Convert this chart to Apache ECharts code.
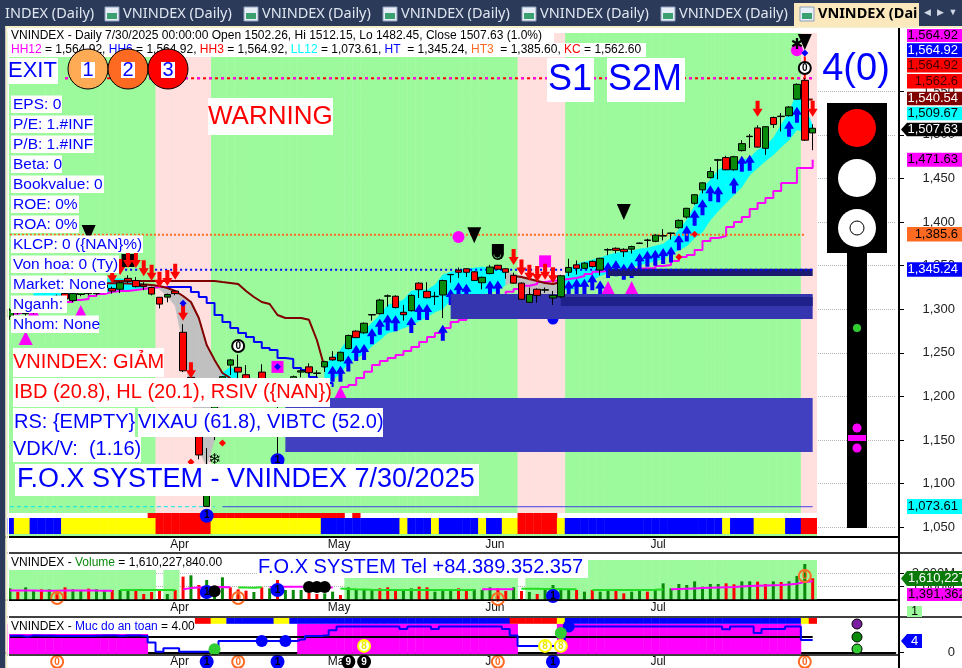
<!DOCTYPE html>
<html><head><meta charset="utf-8">
<style>html,body{margin:0;padding:0;background:#fff}#c{width:962px;height:668px}</style>
<script src="https://cdn.jsdelivr.net/npm/echarts@6/dist/echarts.min.js"></script>
</head><body><div id="c"></div>
<script>
const categories=['3/4','3/5','3/6','3/7','3/10','3/11','3/12','3/13','3/14','3/17','3/18','3/19','3/20','3/21','3/24','3/25','3/26','3/27','3/28','3/31',
'4/1','4/2','4/3','4/4','4/8','4/9','4/10','4/11','4/14','4/15','4/16','4/17','4/18','4/21','4/22','4/23','4/24','4/25','4/28','4/29',
'5/5','5/6','5/7','5/8','5/9','5/12','5/13','5/14','5/15','5/16','5/19','5/20','5/21','5/22','5/23','5/26','5/27','5/28','5/29','5/30',
'6/2','6/3','6/4','6/5','6/6','6/9','6/10','6/11','6/12','6/13','6/16','6/17','6/18','6/19','6/20','6/23','6/24','6/25','6/26','6/27','6/30',
'7/1','7/2','7/3','7/4','7/7','7/8','7/9','7/10','7/11','7/14','7/15','7/16','7/17','7/18','7/21','7/22','7/23','7/24','7/25','7/28','7/29','7/30',
'','','','','','','','','',''];
const monthTicks=[20,40,60,81];
const monthNames=['Apr','May','Jun','Jul'];
const priceTicks=[1050,1100,1150,1200,1250,1300,1350,1400,1450,1500,1550];
const volumeTicks=[1000,2000];
const safetyTicks=[0];

const opens=[1292,1300,1295,1303,1300,1312,1305,1318,1310,1317,1325,1318,1328,1324,1323,1335.5,1333,1328,1325,1313.8,1314,1321,1273.6,1222,1154,1074,1160,1212,1236,1233.5,1225,1212,1228,1210,1215,1205,1212,1228,1234,1226.5,1234,1245,1241,1255,1275,1273,1293.5,1295,1315,1315,1296.6,1298.4,1330,1320.6,1314.5,1316.4,1339.7,1345,1346.5,1343,1330.5,1341,1350.5,1346.5,1339,1330,1308,1323,1322,1313,1314.4,1342.5,1351,1347,1355,1345,1368,1370,1368.8,1369,1375.5,1379,1378,1384,1387,1393.6,1405.8,1421.6,1437,1451,1471,1474,1460,1482,1498,1508,1484.6,1520,1521,1522,1541,1562.6,1502.26];
const closes=[1299,1296,1302,1298,1309,1307,1315,1312,1318,1322,1318,1328,1325,1321,1330.5,1332.5,1326,1326,1317.5,1306,1317,1318,1229.5,1205,1133,1092.8,1205,1222.7,1242,1228,1219,1205,1219,1216,1208,1215,1222.7,1229.5,1227.3,1227,1240,1242,1250.7,1270,1267.5,1284,1294,1310.6,1315.5,1302,1293.8,1316,1322.5,1313.3,1315,1333,1340,1342.5,1342.5,1333,1336.7,1348.5,1346,1342.5,1330,1311.5,1317,1316,1322.5,1316,1338.5,1348,1347,1353,1349,1358.5,1368.5,1367.6,1366,1372,1376,1379.5,1385,1384.5,1387.5,1402,1415.8,1431.4,1445,1458,1471.5,1460,1475,1490,1498.5,1486,1509.4,1512,1521.5,1532,1558,1494,1507.63];
const lows=[1288,1294,1292,1295,1298,1304,1303,1310,1308,1315,1316,1316,1323,1318,1318.6,1330,1325,1322,1316,1301,1308,1316,1228,1190,1128,1073.61,1150,1208,1224.6,1218,1212,1198,1212,1200,1133,1200,1208,1222,1226,1222,1228,1241,1240,1254,1267,1272,1287,1294,1303,1301,1287,1297.5,1313,1312.5,1305,1290,1330.5,1336,1337,1332.5,1323,1340,1345,1335,1329.5,1311,1307.5,1307.5,1319,1305,1313,1338,1340,1346,1348,1339,1362,1364,1360,1364,1375,1371,1377,1379,1380,1392.5,1404,1420,1433,1450,1449,1459.5,1459,1481,1485,1485.5,1477,1508,1504,1521,1540,1493,1482.45];
const highs=[1301,1302,1304,1305,1311,1314,1317,1319,1320,1324,1327,1330,1330,1326,1332,1339,1337,1331,1326,1314,1318,1322,1283,1226,1160,1141,1208,1223.5,1243,1248,1236,1218,1237,1220,1218,1218,1224,1231,1238,1230,1241,1252,1251.5,1271,1276,1285,1294.5,1312,1317,1316,1305,1317,1331,1331,1320,1334,1340.5,1348,1347,1344,1337.5,1351,1351,1347,1342,1331,1325,1324,1325,1321,1339.5,1358,1356,1354,1356,1359,1370,1371,1370,1373,1376.5,1381,1386,1392,1388,1403,1416.5,1432,1446,1463,1472.5,1476,1476,1494,1501,1511,1510,1521,1525,1533,1559,1564.92,1512.15];

const regimePink=[[19,25],[65,70],[101,102]];
const regimeStrip='BYYBBBBYYYYYYYYYYYYRRRRRRRYYYYYYYYYYYYYYBBBBBBBBBBYBBBYBBBBBYBBYYRRRRRYBBBBBBBBBBBBBBBBBBBBYBBBYYYYBBRR';
const topRedBars=[[18,42],[44,44],[65,69]];
const safetyStrip='NNNNNNNNNNNNNNNNNNNNNNNNRRYYBBBBBBYYBBBBBBBBBBBBBBBBBBBBBBBBBBBBRRRRRRYBBBBBBBBBBBBBBBBBBBBBBBBBBBBBBYR';

const bandUpper=[null,null,null,1318,1320,1322,1325,1328,1330,1332,1333,1334,1335,1335,1335,1334,1332,1329,1327.9,1326.7,1324.4,1321,1315.3,1308.4,1290,1259,1242,1227,1233.8,1228,null,null,null,null,null,null,null,null,null,null,1236.1,1244.2,1253.3,1267.1,1271.7,1275.1,1284.3,1293.5,1305,1307.2,1310.7,1321,1322.2,1322.2,1327.9,1339.4,1342.8,1345.1,1346.2,1347.4,1348.5,1347.4,1346.2,1345.1,1340.5,1338.2,1335.9,1333.6,1331.3,1330.2,1330.2,1345.1,1352,1354.3,1356.6,1358.9,1362.3,1364.6,1365.7,1366.9,1369.2,1370.3,1372.6,1374.9,1381.8,1391,1402.4,1418.5,1439.1,1448.3,1459.8,1464.3,1467.8,1471.2,1473.5,1482.7,1487.3,1496.4,1511.3,1526.2,1548,1534.3,1510.2];
const bandLower=[null,null,null,1312,1313,1314,1315,1316,1317,1318,1319,1320,1320,1321,1322,1322,1323,1324,1325.6,1323,1315.3,1303.8,1259,1201.7,1138.6,1120,1150,1201.7,1213.2,1221,null,null,null,null,null,null,null,null,null,null,1213.2,1218.9,1227,1238.4,1244.2,1248.7,1257.9,1264.8,1272.8,1275.1,1278.6,1282,1286.6,1291.2,1296.9,1300.4,1310.7,1317.6,1317.6,1317.6,1317.6,1318.7,1322.2,1327.9,1331.3,1322.2,1315.3,1313,1314.1,1316.4,1322.2,1322.2,1324.4,1329,1333.6,1338.2,1341.7,1344,1346.2,1348.5,1350.8,1353.1,1355.4,1357.7,1363.4,1368,1372.6,1381.8,1388.7,1402.4,1412.7,1421.9,1431.1,1440.2,1454,1462,1470,1477,1486.1,1494.3,1505.8,1503.5,1505.8];
const bandGrayRanges=[[18,27],[64,70]];

const magentaStop=[1295,1297,1299,1300,1302,1304,1306,1308.4,1310.7,1311.8,1315.3,1317.6,1319.8,1321,1321,1322.2,1323.3,1324.4,1325.6,1325.6,1325.6,1325.6,null,null,null,null,null,null,null,null,null,null,null,null,null,null,null,null,null,null,null,null,1210.9,1213.2,1221.2,1228.4,1236.1,1240.7,1244.2,1247.6,1252.2,1256.8,1262.5,1268.2,1272.8,1278.6,1285.4,1287.7,1299,1303.8,1307.2,1313,1316.4,1320.2,1323.3,1327,1329,1331.3,1332.5,1333.6,1334.8,1336,1338.2,1340.5,1343,1344,1345,1345.5,1346,1346.5,1347,1347.4,1349.7,1350.8,1355.4,1360,1362.3,1368,1378.4,1381.8,1384,1394.4,1400.1,1405.9,1415,1421.9,1427.6,1435.7,1444.9,1444.9,1462,1462,1471.63];
const blueStop=[null,null,null,null,null,null,null,null,null,null,null,null,null,null,null,null,null,null,null,null,1325.6,1325.6,1325.6,1319.8,1314.1,1307.2,1293.5,1285.4,1278.6,1272.8,1268.2,1262.5,1255.6,1253.3,1244.2,1243,1232.7,1230.4,1222.4,1218.9,1215.5,1210.9];
const slowDarkRed=[null,null,null,null,null,null,null,null,null,null,null,null,null,1332.6,1332.6,1332.6,1332.6,1332.6,1332.6,1332.6,1332.6,1332.6,1332.6,1332.6,1332.6,1332.6,1332.6,1331.3,1330.2,1329,1321,1314.1,1308.4,1306.1,1293.5,1290,1290,1290,1288,1264.8,1232.7];
const fastDarkRed=[null,null,null,null,null,null,null,null,null,null,null,null,1330,1330,1330,1329.5,1329,1328.5,1327.9,1326.7,1324.4,1321,1315.3,1308.4,1290,1259,1242,1227,1221,null,null,null,null,null,null,null,null,null,null,null,null,null,null,null,null,null,null,null,null,null,null,null,null,null,null,null,null,null,null,null,null,null,null,null,1338.2,1337,1334.8,1332.5,1330.2,1329,1331.3];

const hh12Level=1564.92, ht3Level=1385.6, htLevel=1345.24, ll12Level=1073.61, kcRedLevel=1540.54;

const blueArrows=[[41,1226],[42,1226],[43,1238],[44,1250],[45,1251],[46,1269],[47,1280],[48,1285],[49,1284],[51,1282],[52,1297],[53,1297],[55,1273],[56,1314],[57,1322],[58,1320],[61,1324],[62,1324],[71,1324],[72,1326],[73,1326],[74,1331],[75,1324],[76,1345],[77,1347],[78,1343],[79,1345],[80,1355],[81,1358],[82,1359],[83,1361],[84,1363],[85,1377],[86,1387],[87,1405],[88,1417],[89,1433],[90,1432],[92,1442],[93,1467],[94,1468],[99,1507],[100,1523]];
const redArrows=[[7,1350],[13,1339],[14,1348.5],[15,1356.5],[16,1356.5],[17,1347],[18,1342],[19,1334],[20,1336],[21,1343],[22,1296],[23,1230],[64,1360],[65,1348],[66,1342],[67,1340.5],[68,1343],[69,1339],[95,1530],[102,1530]];
const blackDownTriangles=[[10,1387.5],[59,1385],[78,1411.6],[101,1606.6]];
const magentaUpTriangles=[[2,1267],[3,1297],[9,1297],[42,1204],[76,1324.4],[79,1324.4]];
const magentaDots=[[57,1383],[100,1597]];
const magentaSquares=[[34,1234],[68,1355]];
const blueDiamonds=[[22,1307],[34,1234],[101,1594]];
const redDiamonds=[[23,1124.9],[27,1146.7],[85,1360],[87,1386]];
const blackSquares=[[15,1356]];
const blackPills=[[62,1365.7]];
const mainOrings=[[29,1257.9,'0'],[101,1576.7,'0']];
const mainBlueOnes=[[25,1063.3,'1'],[34,1127,'1']];
const underBlueOnes=[[69,1288.9]];
const redStem=[[101,1566],[101,1590]];
const glyphMarks=[[26,1127,'\u2744','#0000ff'],[100,1603,'\u2731','#000000']];
const zones=[[35,102,1136.4,1198.3],[56,102,1288.9,1317.6],[70,102,1303.8,1314],[76,102,1338.2,1346.6]];
const zoneColors=['#4040c0','#3535b0','#20208a','#1a1a70'];

const volumes=[864,618,939,741,790,790,741,939,790,741,840,790,741,741,741,692,667,445,593,741,445,741,1729,1828,1112,1482,247,1680,939,790,692,593,939,864,1482,741,741,741,543,445,494,618,370,939,790,790,741,864,939,741,790,864,988,939,618,741,790,864,790,790,741,939,864,667,939,667,593,445,790,1112,840,741,741,618,741,618,741,741,494,618,667,618,790,1235,864,1186,1112,1383,988,1186,1186,1235,1161,1383,1383,1358,1186,1383,1334,1383,1778,2668,1610.23];
const volumeDir='GRGGRGRRGGRGGRGGRRRRGRRGRGGGRRRGRGRGGGRRGGRGGGGRRRGGRRGGGRRGGGRRGRGRGGGGRGRGGRRGGRGGGGGGGGGRRGGRRGRGGGRG'.slice(0,103);
const volumeMA=[700,700,695,695,692,692,692,695,700,700,700,695,692,692,741,741,741,741,741,741,741,741,800,880,920,950,950,960,950,930,920,915,940,960,980,990,990,990,980,960,940,920,860,820,790,770,750,741,741,741,741,741,741,741,741,741,741,741,741,741,790,790,790,790,790,840,840,830,820,810,800,790,790,741,741,741,741,741,741,741,741,741,760,780,800,820,840,860,880,900,920,940,960,1000,1040,1060,1080,1100,1120,1150,1200,1340,1391.36];
const volumeMAGreen=[[14,21],[29,32],[42,59],[65,72],[74,83]];
const volumeGreenBars=[[0,18],[20,21],[43,64],[66,102]];
const volOrings=[[6,148,'0'],[29,148,'0'],[62,74,'0'],[101,1778,'0']];
const volBlueOnes=[[25,592,'1'],[34,740,'1'],[69,296,'1']];
const volBlackBlobs=[[26,650],[38,963],[39,963],[40,963]];

const safetyLine=[5.4,5.4,5.2,5.5,5.4,5.4,5.3,5.3,5.3,5.3,5.3,5.4,5.5,5.5,5.3,5.5,5.5,5.3,3.2,0.2,1.3,1.3,0.2,0.2,0.2,0.2,0.2,3.7,3.7,3.7,3.7,3.7,3.7,3.7,3.7,3.7,3.7,4.2,5.3,5.3,5.5,7.2,8.4,8.4,8.4,8.4,8.4,8.4,8.4,8.4,7.6,8.4,8.4,8.4,7.6,8.4,8.4,8.4,8.4,8.4,8.4,8.4,8.4,7.6,5.5,2.1,2.1,2.1,2.1,2.1,2.1,8.4,8.4,8.4,8.4,8.4,8.4,8.4,8.4,8.4,8.4,8.4,8.4,8.4,8.4,8.4,8.4,8.4,8.4,8.4,8.4,7.5,8.4,8.4,8.4,6.3,7.6,7.6,7.6,8.4,8.4,4,4];
const safetyMagentaBars=[[0,17],[37,64],[70,100]];
const safetyLevel=5;
const safetyBlueDots=[[32,3.7],[35,3.7],[71,8.4]];
const safetyGreenDots=[[26,1],[70,6.3]];
const safetyYellow=[[45,2.1,'8'],[68,2.1,'8'],[70,2.1,'8']];
const bottomOrings=[[6,-3.08,'0'],[29,-3.08,'0'],[62,-3.08,'0'],[101,-3.08,'0']];
const bottomBlue=[[25,-3.08,'1'],[34,-3.08,'1'],[69,-3.08,'1']];
const bottomBlack=[[43,-3.08,'9'],[45,-3.08,'9']];

const FONT='"Liberation Sans",Arial,sans-serif';
const inRanges=(r,i)=>r.some(a=>i>=a[0]&&i<=a[1]);
const lastBar=102;
const idx=Array.from({length:lastBar+1},(_,i)=>i);

function xAxisFor(g){return {type:'category',gridIndex:g,data:categories,boundaryGap:true,
  axisLine:{lineStyle:{color:'#000',width:2}},
  axisTick:{alignWithLabel:true,interval:(i)=>monthTicks.includes(i),length:4,inside:false,lineStyle:{color:'#000'}},
  axisLabel:{interval:(i)=>monthTicks.includes(i),formatter:(v,i)=>monthNames[monthTicks.indexOf(i)]||'',align:'left',color:'#111',fontFamily:FONT,fontSize:12,margin:2,padding:[0,0,0,3]},
  splitLine:{show:false}};}
function yAxisFor(g,min,max,ticks,fmt){return {type:'value',gridIndex:g,position:'right',offset:3.7,min,max,
  axisLine:{show:true,onZero:false,lineStyle:{color:'#000',width:2}},
  axisTick:{show:true,customValues:ticks,length:5,lineStyle:{color:'#000'}},
  axisLabel:{customValues:ticks,formatter:fmt,align:'right',margin:56,color:'#222',fontFamily:FONT,fontSize:13},
  splitLine:{show:true,lineStyle:{color:'#b5b5b5',type:'dotted',width:1}}};}

function bandRects(name,g,ranges,top,bottom,fill,z){
  return {type:'custom',name,xAxisIndex:g,yAxisIndex:g,z,silent:true,clip:true,
    data:idx.filter(i=>inRanges(ranges,i)).map(i=>[i,top,bottom]),encode:{x:0,y:[1,2]},
    renderItem(p,api){const i=api.value(0),a=api.coord([i,api.value(1)]),b=api.coord([i,api.value(2)]),w=api.size([1,0])[0];
      return {type:'rect',shape:{x:a[0]-w/2,y:a[1],width:w+0.4,height:b[1]-a[1]},style:{fill}};}};
}
function stripSeries(name,g,str,top,bottom,colors,z){
  return {type:'custom',name,xAxisIndex:g,yAxisIndex:g,z,silent:true,
    data:idx.map(i=>[i,top,bottom]),encode:{x:0,y:[1,2]},
    renderItem(p,api){const i=api.value(0),a=api.coord([i,api.value(1)]),b=api.coord([i,api.value(2)]),w=api.size([1,0])[0];
      return {type:'rect',shape:{x:a[0]-w/2,y:a[1],width:w+0.4,height:b[1]-a[1]},style:{fill:colors[str[i]]}};}};
}
function lineS(name,g,data,color,width,z,extra){return Object.assign({type:'line',name,xAxisIndex:g,yAxisIndex:g,data,symbol:'none',connectNulls:false,silent:true,z,
  lineStyle:{color,width}},extra||{});}
function level(name,from,to,v,color,width,type,z,offset){return {type:'line',name,xAxisIndex:0,yAxisIndex:0,data:[[from,v],[to,v]],symbol:'none',silent:true,z,
  lineStyle:{color,width,type,dashOffset:offset||0}};}
function marks(name,g,data,symbol,size,color,z,extra){return Object.assign({type:'scatter',name,xAxisIndex:g,yAxisIndex:g,data,symbol,symbolSize:size,symbolKeepAspect:false,silent:true,z,clip:false,itemStyle:{color,opacity:1}},extra||{});}
function badge(name,g,data,fill,ring,txt,size,z){return marks(name,g,data,'circle',size,fill,z,{
  itemStyle:{color:fill,borderColor:ring,borderWidth:2,opacity:1},
  label:{show:true,position:'inside',formatter:(p)=>p.value[2],color:txt,fontFamily:FONT,fontSize:size-2,fontWeight:'bold'}});}
const pRed='path://M3,0H7V8H10L5,16L0,8H3Z';
const pBlue='path://M5,0L10,8H7V16H3V8H0Z';
const pDown='path://M0,0H14L7,16Z';
const pPill='path://M0,0H12V10A6,6,0,0,1,0,10Z';

const series=[
 bandRects('green',0,[[0,102]],1616.8,1066.4,'#9cfa9c',1),
 bandRects('pink',0,regimePink,1616.8,1066.4,'#ffe0de',1.1),
 bandRects('stripBase',0,[[0,102]],1042.3,1039,'#9cfa9c',1),
 bandRects('topRed',0,topRedBars,1066.4,1060.7,'#ff0000',1.2),
 stripSeries('strip',0,regimeStrip,1060.7,1042.3,{B:'#0000ff',Y:'#ffff00',R:'#ff0000'},1.3),
 {type:'custom',name:'band',xAxisIndex:0,yAxisIndex:0,z:2,silent:true,
  data:idx.slice(0,-1).filter(i=>bandUpper[i]!=null&&bandUpper[i+1]!=null).map(i=>[i,bandUpper[i]]),encode:{x:0,y:1},
  renderItem(p,api){const i=api.value(0);
    const a=api.coord([i,bandUpper[i]]),b=api.coord([i+1,bandUpper[i+1]]),c=api.coord([i+1,bandLower[i+1]]),d=api.coord([i,bandLower[i]]);
    return {type:'polygon',shape:{points:[a,b,c,d]},style:{fill:inRanges(bandGrayRanges,i+1)?'#c0c0c0':'#00ffff',stroke:inRanges(bandGrayRanges,i+1)?'#c0c0c0':'#00ffff',lineWidth:0.5}};}},
 lineS('magentaStop',0,magentaStop,'#ff00ff',2,3,{step:'end'}),
 marks('underOne',0,underBlueOnes,'circle',11,'#0000ff',3),
 marks('blueArrows',0,blueArrows,pBlue,[10,16],'#0000ff',3.5),
 marks('magentaTri',0,magentaUpTriangles,'triangle',[14,14],'#ff00ff',3.5),
 {type:'custom',name:'zones',xAxisIndex:0,yAxisIndex:0,z:4,silent:true,
  data:zones.map((z,i)=>[z[0],z[1],z[2],z[3],i]),encode:{x:[0,1],y:[2,3]},
  renderItem(p,api){const a=api.coord([api.value(0),api.value(3)]),b=api.coord([api.value(1),api.value(2)]);
    return {type:'rect',shape:{x:a[0],y:a[1],width:b[0]-a[0],height:b[1]-a[1]},style:{fill:zoneColors[api.value(4)]}};}},
 level('ll12a',0,26,ll12Level,'#00e8e8',1,[4,3],5),
 level('ll12b',26.5,102,ll12Level,'#4040e8',1,'solid',5),
 level('ht3',0,101,ht3Level,'#ff6a22',2,[2,2],5),
 level('ht',14,102,htLevel,'#0000ff',2,[2,3],5),
 level('hh12r',7,102,hh12Level,'#ff0000',2,[3,3],5),
 level('hh12m',7,102,hh12Level,'#ff00ff',2,[3,9],5.1),
 lineS('blueStop',0,blueStop,'#0000ff',2,5,{step:'end'}),
 lineS('slow',0,slowDarkRed,'#800000',2,5),
 lineS('fast',0,fastDarkRed,'#800000',2,5),
 lineS('kcRed',0,[[101,kcRedLevel],[102,kcRedLevel]],'#800000',2,5),
 {type:'candlestick',name:'VNINDEX',xAxisIndex:0,yAxisIndex:0,z:6,silent:true,barWidth:7,
  data:opens.map((o,i)=>[o,closes[i],lows[i],highs[i]]),
  itemStyle:{color:'#0a8a0a',color0:'#ff0000',borderColor:'#000',borderColor0:'#000',borderColorDoji:'#000',borderWidth:1}},
 lineS('redStem',0,redStem,'#ff0000',2,6),
 marks('blackTri',0,blackDownTriangles,pDown,[14,16],'#000',7),
 marks('blackSq',0,blackSquares,'rect',[13,13],'#000',6.5),
 marks('magDots',0,magentaDots,'circle',12,'#ff00ff',7),
 marks('magSq',0,magentaSquares,'rect',[12,12],'#ff00ff',7),
 marks('pill',0,blackPills,pPill,[12,16],'#000',7,{label:{show:true,formatter:'\u25e1',color:'#7fff7f',fontSize:10,position:'inside',offset:[0,2]}}),
 marks('redArrows',0,redArrows,pRed,[10,16],'#ff0000',7.5),
 marks('blueDia',0,blueDiamonds,'diamond',7,'#0000ff',8),
 marks('redDia',0,redDiamonds,'diamond',7,'#ff0000',8),
 badge('rings',0,mainOrings,'#fff','#000','#000',12,8),
 badge('ones',0,mainBlueOnes,'#0000ff','#0000ff','#000',12,8),
 marks('glyphs',0,glyphMarks.map(g=>[g[0],g[1],g[2],g[3]]),'circle',1,'rgba(0,0,0,0)',8,{
   label:{show:true,position:'inside',fontFamily:'"DejaVu Sans"',fontSize:15,formatter:p=>p.value[2],color:p=>p.value[3],rich:{}}}),

 bandRects('volGreen',1,volumeGreenBars,2963,0,'#9cfa9c',1),
 {type:'bar',name:'Volume',xAxisIndex:1,yAxisIndex:1,z:3,barWidth:3,silent:true,
  data:volumes.map((v,i)=>({value:v,itemStyle:{color:volumeDir[i]==='R'?'#ff0000':'#0a8a0a'}}))},
 lineS('volMAm',1,volumeMA.map((v,i)=>inRanges(volumeMAGreen,i)?null:v),'#ff00ff',2,4),
 lineS('volMAg',1,volumeMA.map((v,i)=>inRanges(volumeMAGreen,i)?v:null),'#22dd22',2,4),
 badge('volO',1,volOrings,'rgba(255,255,255,0)','#ff6a22','#ff6a22',12,5),
 badge('volB',1,volBlueOnes,'#0000ff','#0000ff','#000',12,5),
 marks('volK',1,volBlackBlobs,'circle',12,'#000',5),

 bandRects('safeMag',2,safetyMagentaBars,9.3,-0.54,'#ff00ff',1),
 stripSeries('safeStrip',2,safetyStrip,11.2,9.3,{N:'rgba(0,0,0,0)',B:'#0000ff',Y:'#ffff00',R:'#ff0000'},1.2),
 {type:'line',name:'level',xAxisIndex:2,yAxisIndex:2,data:[[0,safetyLevel],[102,safetyLevel]],symbol:'none',silent:true,z:2,lineStyle:{color:'#000',width:2}},
 lineS('safety',2,safetyLine,'#0000ff',2,3,{step:'middle'}),
 marks('safeBlue',2,safetyBlueDots,'circle',12,'#0000ff',4),
 marks('safeGreen',2,safetyGreenDots,'circle',12,'#32cd32',4),
 badge('safeY',2,safetyYellow,'#ffffff','#ffff00','#e8e800',12,4),
 badge('botO',2,bottomOrings,'#fff','#ff6a22','#ff6a22',12,5),
 badge('botB',2,bottomBlue,'#0000ff','#0000ff','#000',12,5),
 badge('botK',2,bottomBlack,'#000','#000','#fff',12,5)
];

/* ---------- annotations ---------- */
const G=[];let Z=100;
function rect(x,y,w,h,fill,stroke){G.push({type:'rect',z:Z++,silent:true,shape:{x,y,width:w,height:h},style:{fill,stroke:stroke||null,lineWidth:stroke?1:0}});}
function txt(x,y,t,fill,size,align,weight,fam){G.push({type:'text',z:Z++,silent:true,style:{x,y,text:t,fill,font:(weight||'normal')+' '+size+'px '+(fam||FONT),textAlign:align||'left',textVerticalAlign:'middle',verticalAlign:'middle'}});}
function box(x,y,w,h,bg,t,fill,size,tx,align){rect(x,y,w,h,bg);txt(tx===undefined?x+1:tx,y+h/2,t,fill,size,align);}
function circ(cx,cy,r,fill,stroke){G.push({type:'circle',z:Z++,silent:true,shape:{cx,cy,r},style:{fill,stroke:stroke||null,lineWidth:stroke?1:0}});}
function hline(x1,x2,y,w){G.push({type:'line',z:90,silent:true,shape:{x1,y1:y,x2,y2:y},style:{stroke:'#000',lineWidth:w}});}

/* window chrome */
rect(0,0,962,26,'#2c3a5a');rect(0,26,5.5,642,'#2c3a5a');rect(5.5,26,2,642,'#f6ecc8');rect(5.5,26,956.5,2,'#f6ecc8');rect(7.5,28,1.5,640,'#fff');
const TAB='"Noto Sans",sans-serif';
txt(5,14,'INDEX (Daily)','#dfe6f0',14.5,'left','normal',TAB);
[105,244,383,522,661].forEach(x=>{rect(x,7,14,14,'#e8eef8','#8fa0bb');rect(x+2,13,10,6,'#3aa070');txt(x+18,14,'VNINDEX (Daily)','#dfe6f0',14.5,'left','normal',TAB);});
rect(794,3,125,23,'#fbe9bd');rect(800,7,14,14,'#e8eef8','#8fa0bb');rect(802,13,10,6,'#3aa070');
txt(818,14,'VNINDEX (Dai','#000',14.5,'left','bold',TAB);
txt(927,13,'\u25c0','#cfd6e4',9,'center');txt(940,13,'\u25b6','#cfd6e4',9,'center');txt(953,13,'\u25bc','#cfd6e4',9,'center');

/* pane dividers */
hline(6,899,537,2);hline(6,962,553,1.5);hline(6,962,617,1.5);hline(6,899,600,1.5);hline(6,899,655,1.5);
G.push({type:'line',z:90,silent:true,shape:{x1:899,y1:28,x2:899,y2:668},style:{stroke:'#000',lineWidth:2}});

/* headers */
box(9,29,545,14,'#fff','VNINDEX - Daily 7/30/2025 00:00:00 Open 1502.26, Hi 1512.15, Lo 1482.45, Close 1507.63 (1.0%)','#000',12,11);
rect(9,43,637,14,'#fff');
G.push({type:'text',z:Z++,silent:true,style:{x:11,y:50,font:'12px '+FONT,textVerticalAlign:'middle',verticalAlign:'middle',fill:'#000',
 text:'{m|HH12} = 1,564.92, {b|HH6} = 1,564.92, {r|HH3} = 1,564.92, {c|LL12} = 1,073.61, {b|HT}  = 1,345.24, {o|HT3}  = 1,385.60, {r|KC} = 1,562.60',
 rich:{m:{fill:'#ff00ff',font:'12px '+FONT},b:{fill:'#0000ff',font:'12px '+FONT},r:{fill:'#ff0000',font:'12px '+FONT},c:{fill:'#00ffff',font:'12px '+FONT},o:{fill:'#ff6a22',font:'12px '+FONT}}}});

/* EXIT + numbered lamps */
box(8,58,50,26,'#fff','EXIT','#0000ff',22,8);
[[88,'#ffaa55','1'],[128,'#ff6a22','2'],[168,'#ff0000','3']].forEach(c=>{circ(c[0],69,20,c[1],'#000');rect(c[0]-7,62,14,16,'#fff');txt(c[0],70,c[2],'#0000ff',20,'center');});

/* fundamentals */
[['EPS: 0',51],['P/E: 1.#INF',83],['P/B: 1.#INF',83],['Beta: 0',51],['Bookvalue: 0',93],['ROE: 0%',68],['ROA: 0%',68],['KLCP: 0 ({NAN}%)',132],['Von hoa: 0 (Ty)',108],['Market: None',96],['Nganh:',56],['Nhom: None',88]]
 .forEach((r,n)=>box(11,95.5+n*20,r[1],17.5,'#fff',r[0],'#0000ff',15.5,13));

box(208,98,125,37,'#fff','WARNING','#ff0000',26,208);
box(547,58,47,44,'#fff','S1','#0000ff',36,548);
box(607,58,78,44,'#fff','S2M','#0000ff',36,608);
txt(856,70,'4(0)','#0000ff',38,'center');

box(13,348,151,29,'#fff','VNINDEX: GI\u1ea2M','#ff0000',20,13);
box(13,378,317,29,'#fff','IBD (20.8), HL (20.1), RSIV ({NAN})','#ff0000',20,14);
box(13,408,122,29,'#fff','RS: {EMPTY}','#0000ff',20,14);
box(138,408,245,29,'#fff','VIXAU (61.8), VIBTC (52.0)','#0000ff',20,138);
box(13,437,128,25,'#fff','VDK/V:  (1.16)','#0000ff',20,13);
box(15,464,464,32,'#fff','F.O.X SYSTEM - VNINDEX 7/30/2025','#0000ff',27,17);

box(9,556,215,14,'#fff','','#000',12);
G.push({type:'text',z:Z++,silent:true,style:{x:11,y:563,font:'12px '+FONT,textVerticalAlign:'middle',verticalAlign:'middle',fill:'#000',
 text:'VNINDEX - {g|Volume} = 1,610,227,840.00',rich:{g:{fill:'#0a8a0a',font:'12px '+FONT}}}});
box(257,556,331,22,'#fff','F.O.X SYSTEM Tel +84.389.352.357','#0000ff',20,258);
box(9,620,184,14,'#fff','','#000',12);
G.push({type:'text',z:Z++,silent:true,style:{x:11,y:627,font:'12px '+FONT,textVerticalAlign:'middle',verticalAlign:'middle',fill:'#000',
 text:'VNINDEX - {b|Muc do an toan} = 4.00',rich:{b:{fill:'#0000ff',font:'12px '+FONT}}}});

/* traffic light */
rect(847,253,20,275,'#000');rect(827,103,60,150,'#000');
circ(857,128,19,'#ff0000');circ(857,178,19,'#fff');circ(857,228,19,'#fff');circ(857,228,7,'#fff','#000');
circ(857,328,4,'#32cd32');circ(857,428,4.5,'#ff00ff');circ(857,448,4.5,'#ff00ff');rect(848,435,18,6,'#ff00ff');
circ(857,624,5,'#7a1fa2','#000');circ(857,637,5,'#0a8a0a','#000');circ(857,649,5,'#32cd32','#000');

/* price tags */
[[29,13,'#ff00ff','1,564.92','#000'],[43.3,14,'#0000ff','1,564.92','#fff'],[58,14.5,'#ff0000','1,564.92','#400000'],[74,14.5,'#ff0000','1,562.6','#400000'],
 [91.7,13.5,'#800000','1,540.54','#fff'],[106.7,13.5,'#00ffff','1,509.67','#000'],[122.7,13.5,'#000','1,507.63','#fff'],[152.7,14,'#ff00ff','1,471.63','#000'],
 [227,14.5,'#ff6a22','1,385.6','#000'],[262.3,14.5,'#0000ff','1,345.24','#fff'],[499,15,'#00ffff','1,073.61','#000']]
 .forEach(t=>box(907,t[0],55,t[1],t[2],t[3],t[4],13,958,'right'));
G.push({type:'polygon',z:Z++,silent:true,shape:{points:[[901,129.5],[907,122.7],[907,136.2]]},style:{fill:'#000'}});
G.push({type:'polygon',z:Z++,silent:true,shape:{points:[[901,578.5],[907,571],[907,586]]},style:{fill:'#0a7a0a'}});
box(907,571,55,15,'#0a7a0a','1,610,227','#fff',13,908);
box(907,588,55,13,'#ff00ff','1,391,362','#000',13,908);
box(907,606,15,11,'#9cfa9c','1','#000',12,914.5,'center');
G.push({type:'polygon',z:Z++,silent:true,shape:{points:[[901,641],[907,634],[907,648]]},style:{fill:'#0000ff'}});
box(907,634,15,14,'#0000ff','4','#fff',13,914.5,'center');

const chart=echarts.init(document.getElementById('c'),null,{renderer:'canvas'});
chart.setOption({animation:false,backgroundColor:'#fff',
 grid:[{left:6,width:889.3,top:28,height:509},{left:6,width:889.3,top:553,height:47},{left:6,width:889.3,top:617,height:38}],
 xAxis:[xAxisFor(0),xAxisFor(1),xAxisFor(2)],
 yAxis:[yAxisFor(0,1038.9,1622.6,priceTicks,v=>v.toLocaleString('en-US')),
        yAxisFor(1,0,3481,volumeTicks,v=>v.toLocaleString('en-US')+'M'),
        yAxisFor(2,-0.54,11.52,safetyTicks,v=>String(v))],
 series,graphic:{elements:G}});
</script></body></html>
